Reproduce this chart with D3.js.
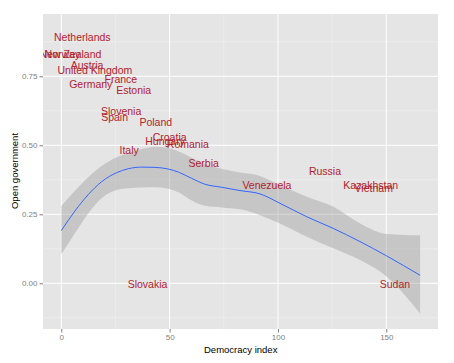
<!DOCTYPE html>
<html><head><meta charset="utf-8">
<script src="https://cdn.jsdelivr.net/npm/d3@7"></script>
<style>body{margin:0;background:#fff}svg{display:block}</style>
</head><body>
<script>
const countries = ["Netherlands","Norway","New Zealand","Austria","United Kingdom","France","Germany","Estonia","Slovenia","Spain","Poland","Croatia","Hungary","Romania","Italy","Serbia","Russia","Venezuela","Kazakhstan","Vietnam","Sudan","Slovakia"];
const democracy = [9.7,0.5,4.2,11.9,15.5,27.5,13.6,33.4,27.6,24.6,43.6,50.0,47.9,58.4,31.3,65.7,121.7,94.9,142.8,144.2,154,39.8];
const openGov =   [0.891,0.831,0.831,0.790,0.770,0.740,0.721,0.700,0.622,0.603,0.583,0.528,0.513,0.502,0.483,0.435,0.404,0.356,0.356,0.344,-0.003,-0.003];

const smoothX  = [0,6.3,12.5,18.6,25.6,30.9,37.1,43.2,49.4,54,60.2,66.3,74,82.5,91.7,100.9,113.3,125.5,137.9,150.2,165.6];
const smoothY  = [0.191,0.262,0.322,0.368,0.401,0.415,0.421,0.420,0.414,0.403,0.380,0.359,0.348,0.336,0.324,0.290,0.241,0.199,0.151,0.099,0.029];
const smoothLo = [0.105,0.181,0.254,0.308,0.338,0.344,0.347,0.348,0.343,0.330,0.300,0.281,0.275,0.268,0.247,0.217,0.169,0.127,0.084,0.024,-0.109];
const smoothHi = [0.280,0.335,0.385,0.425,0.457,0.472,0.487,0.495,0.490,0.478,0.455,0.432,0.415,0.401,0.389,0.356,0.314,0.278,0.217,0.179,0.174];

const xTicks = [0,50,100,150];
const yTicks = [0,0.25,0.5,0.75];
const xMinor = [25,75,125];
const yMinor = [-0.125,0.125,0.375,0.625,0.875];

const W=454,H=363;
const P={l:43,r:438,t:14,b:329};
const x=d3.scaleLinear().domain([0,150]).range([61.3,386.3]);
const y=d3.scaleLinear().domain([0,0.75]).range([283.3,76.3]);

const svg=d3.select("body").append("svg").attr("width",W).attr("height",H);
svg.append("rect").attr("width",W).attr("height",H).attr("fill","#fff");
svg.append("defs").append("clipPath").attr("id","pc").append("rect")
  .attr("x",P.l).attr("y",P.t).attr("width",P.r-P.l).attr("height",P.b-P.t);
svg.append("rect").attr("x",P.l).attr("y",P.t).attr("width",P.r-P.l).attr("height",P.b-P.t).attr("fill","#E5E5E5");

const g=svg.append("g").attr("clip-path","url(#pc)");
g.selectAll(".xm").data(xMinor).join("line").attr("x1",d=>x(d)).attr("x2",d=>x(d)).attr("y1",P.t).attr("y2",P.b).attr("stroke","#F2F2F2").attr("stroke-width",0.5);
g.selectAll(".ym").data(yMinor).join("line").attr("y1",d=>y(d)).attr("y2",d=>y(d)).attr("x1",P.l).attr("x2",P.r).attr("stroke","#F2F2F2").attr("stroke-width",0.5);
g.selectAll(".xM").data(xTicks).join("line").attr("x1",d=>x(d)).attr("x2",d=>x(d)).attr("y1",P.t).attr("y2",P.b).attr("stroke","#fff").attr("stroke-width",1);
g.selectAll(".yM").data(yTicks).join("line").attr("y1",d=>y(d)).attr("y2",d=>y(d)).attr("x1",P.l).attr("x2",P.r).attr("stroke","#fff").attr("stroke-width",1);

const sm=smoothX.map((d,i)=>({x:d,y:smoothY[i],lo:smoothLo[i],hi:smoothHi[i]}));
g.append("path").datum(sm).attr("fill","#999999").attr("fill-opacity",0.4)
  .attr("d",d3.area().x(d=>x(d.x)).y0(d=>y(d.lo)).y1(d=>y(d.hi)).curve(d3.curveMonotoneX));
g.append("path").datum(sm).attr("fill","none").attr("stroke","#3366FF").attr("stroke-width",1)
  .attr("d",d3.line().x(d=>x(d.x)).y(d=>y(d.y)).curve(d3.curveMonotoneX));

g.selectAll(".lab").data(countries).join("text")
  .attr("x",(d,i)=>x(democracy[i])).attr("y",(d,i)=>y(openGov[i])).attr("dy","0.35em")
  .attr("text-anchor","middle").attr("font-family","Liberation Sans, Arial, sans-serif")
  .attr("font-size","10.5px").attr("fill","#B2222E").text(d=>d);

// axes
const xa=svg.append("g").attr("transform",`translate(0,${P.b})`)
  .call(d3.axisBottom(x).tickValues(xTicks).tickSize(3.5).tickPadding(2).tickFormat(d3.format("d")));
const ya=svg.append("g").attr("transform",`translate(${P.l},0)`)
  .call(d3.axisLeft(y).tickValues(yTicks).tickSize(3.5).tickPadding(2).tickFormat(d3.format(".2f")));
[xa,ya].forEach(a=>{
  a.select(".domain").remove();
  a.selectAll(".tick line").attr("stroke","#7F7F7F");
  a.selectAll(".tick text").attr("fill","#7F7F7F").attr("font-family","Liberation Sans, Arial, sans-serif").attr("font-size","8px");
});

svg.append("text").attr("x",240.7).attr("y",349.3).attr("dy","0.35em").attr("text-anchor","middle")
  .attr("font-family","Liberation Sans, Arial, sans-serif").attr("font-size","9.5px").attr("fill","#000").text("Democracy index");
svg.append("text").attr("transform","translate(15,171) rotate(-90)").attr("dy","0.35em").attr("text-anchor","middle")
  .attr("font-family","Liberation Sans, Arial, sans-serif").attr("font-size","9.5px").attr("fill","#000").text("Open government");
</script>
</body></html>
